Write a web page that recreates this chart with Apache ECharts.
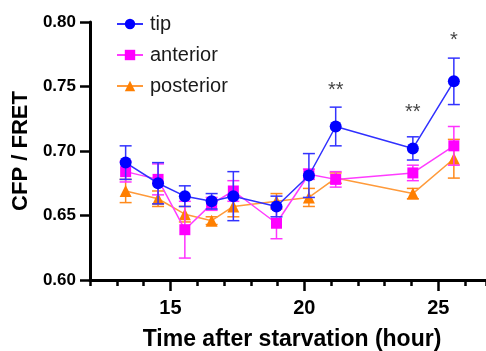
<!DOCTYPE html>
<html>
<head>
<meta charset="utf-8">
<script src="https://cdn.jsdelivr.net/npm/echarts@6/dist/echarts.min.js"></script>
<style>
html,body{margin:0;padding:0;background:#fff;}
#chart{width:486px;height:351px;}
</style>
</head>
<body>
<div id="chart"></div>
<script>
var hours = [13.33, 14.54, 15.54, 16.54, 17.35, 18.96, 20.17, 21.17, 24.05, 25.58];
var tipMean = [0.691, 0.675, 0.665, 0.661, 0.665, 0.657, 0.681, 0.719, 0.702, 0.754];
var tipErr  = [0.013, 0.016, 0.008, 0.006, 0.019, 0.008, 0.017, 0.015, 0.009, 0.018];
var antMean = [0.684, 0.678, 0.639, 0.659, 0.669, 0.644, 0.682, 0.678, 0.683, 0.704];
var antErr  = [0.008, 0.012, 0.022, 0.005, 0.008, 0.012, 0.004, 0.006, 0.006, 0.015];
var posMean = [0.669, 0.663, 0.651, 0.646, 0.657, 0.661, 0.664, 0.679, 0.667, 0.694];
var posErr  = [0.009, 0.006, 0.006, 0.003, 0.008, 0.006, 0.007, 0.004, 0.004, 0.015];
var sigX = [21.17, 24.05, 25.58];
var sigY = [0.747, 0.7295, 0.7855];
var sigText = ['**', '**', '*'];
var xTickHours = [12, 13, 14, 15, 16, 17, 18, 19, 20, 21, 22, 23, 24, 25, 26];
var xMajorTicks = [15, 20, 25];

var FONT = 'Arial, "Liberation Sans", Helvetica, sans-serif';

function pts(means) { return hours.map(function (h, i) { return [h, means[i]]; }); }
function errData(means, errs) { return hours.map(function (h, i) { return [h, means[i] - errs[i], means[i] + errs[i]]; }); }

function errSeries(name, means, errs, color, z) {
  return {
    type: 'custom', name: name + '_err', z: z, silent: true,
    data: errData(means, errs),
    renderItem: function (params, api) {
      var x = api.value(0);
      var lo = api.coord([x, api.value(1)]);
      var hi = api.coord([x, api.value(2)]);
      var hw = 6;
      var st = { stroke: color, lineWidth: 1.5 };
      return {
        type: 'group',
        children: [
          { type: 'line', shape: { x1: lo[0], y1: lo[1], x2: hi[0], y2: hi[1] }, style: st },
          { type: 'line', shape: { x1: lo[0] - hw, y1: lo[1], x2: lo[0] + hw, y2: lo[1] }, style: st },
          { type: 'line', shape: { x1: hi[0] - hw, y1: hi[1], x2: hi[0] + hw, y2: hi[1] }, style: st }
        ]
      };
    }
  };
}

function lineSeries(name, means, color, lineColor, symbol, size, z) {
  return {
    type: 'line', name: name, z: z, data: pts(means),
    symbol: symbol, symbolSize: size, showSymbol: true,
    itemStyle: { color: color, borderWidth: 0 },
    lineStyle: { color: lineColor, width: 1.5 },
    emphasis: { disabled: true }, animation: false
  };
}

var chart = echarts.init(document.getElementById('chart'), null, { renderer: 'canvas' });
chart.setOption({
  animation: false,
  backgroundColor: '#fff',
  textStyle: { fontFamily: FONT },
  grid: [
    { left: 90, right: 0, top: 22, bottom: 71, containLabel: false, outerBoundsMode: 'none' },
    { left: 90, right: 20.8, top: 22, bottom: 71, containLabel: false, outerBoundsMode: 'none' }
  ],
  legend: {
    data: ['tip', 'anterior', 'posterior'],
    orient: 'vertical', left: 111, top: 9,
    itemWidth: 26, itemHeight: 13, itemGap: 11,
    textStyle: { fontSize: 20, color: '#1a1a1a', fontFamily: FONT, padding: [0, 0, 0, 2] },
    selectedMode: false
  },
  xAxis: [{
    type: 'value', min: 12, max: 26.78, interval: 1, gridIndex: 0,
    axisLine: { show: true, lineStyle: { color: '#000', width: 3 } },
    axisTick: { show: true, length: 6, lineStyle: { color: '#000', width: 2.5 } },
    axisLabel: {
      fontSize: 20, fontWeight: 'bold', color: '#000', margin: 18, fontFamily: FONT,
      formatter: function (v) { return xMajorTicks.indexOf(v) >= 0 ? String(v) : ''; }
    },
    splitLine: { show: false },
    name: 'Time after starvation (hour)', nameLocation: 'middle', nameGap: 48,
    nameTextStyle: { fontSize: 23, fontWeight: 'bold', color: '#000', fontFamily: FONT, align: 'center', padding: [0, 0, 0, 8] }
  }, {
    type: 'category', gridIndex: 1, data: xTickHours.map(String), boundaryGap: false,
    position: 'bottom',
    axisLine: { show: false },
    axisTick: {
      show: true, length: 11, alignWithLabel: true,
      interval: function (idx, val) { return xMajorTicks.indexOf(Number(val)) >= 0; },
      lineStyle: { color: '#000', width: 2.5 }
    },
    axisLabel: { show: false },
    splitLine: { show: false }
  }],
  yAxis: [{
    type: 'value', min: 0.6, max: 0.8, interval: 0.05, gridIndex: 0,
    axisLine: { show: true, lineStyle: { color: '#000', width: 3 } },
    axisTick: { show: true, length: 10, lineStyle: { color: '#000', width: 2.5 } },
    axisLabel: {
      fontSize: 17, fontWeight: 'bold', color: '#000', margin: 14, fontFamily: FONT,
      formatter: function (v) { return v.toFixed(2); }
    },
    splitLine: { show: false },
    name: 'CFP / FRET', nameLocation: 'middle', nameGap: 56,
    nameTextStyle: { fontSize: 22, fontWeight: 'bold', color: '#000', fontFamily: FONT }
  }, {
    type: 'value', gridIndex: 1, min: 0, max: 1, show: false
  }],
  series: [
    errSeries('posterior', posMean, posErr, '#ff8a1c', 1),
    lineSeries('posterior', posMean, '#ff7f00', '#ff9a3a', 'triangle', 12, 2),
    errSeries('anterior', antMean, antErr, '#ff33ff', 3),
    lineSeries('anterior', antMean, '#ff00ff', '#ff3cff', 'rect', 11, 4),
    errSeries('tip', tipMean, tipErr, '#3333ff', 5),
    lineSeries('tip', tipMean, '#0000ff', '#3030ff', 'circle', 12, 6),
    {
      type: 'scatter', name: 'sig', z: 7, silent: true,
      data: sigX.map(function (x, i) { return [x, sigY[i], sigText[i]]; }),
      symbol: 'circle', symbolSize: 1,
      itemStyle: { color: 'rgba(0,0,0,0)' },
      label: {
        show: true, position: 'inside', fontSize: 20, color: '#111', fontFamily: FONT,
        formatter: function (p) { return p.value[2]; }
      }
    }
  ]
});
</script>
</body>
</html>
